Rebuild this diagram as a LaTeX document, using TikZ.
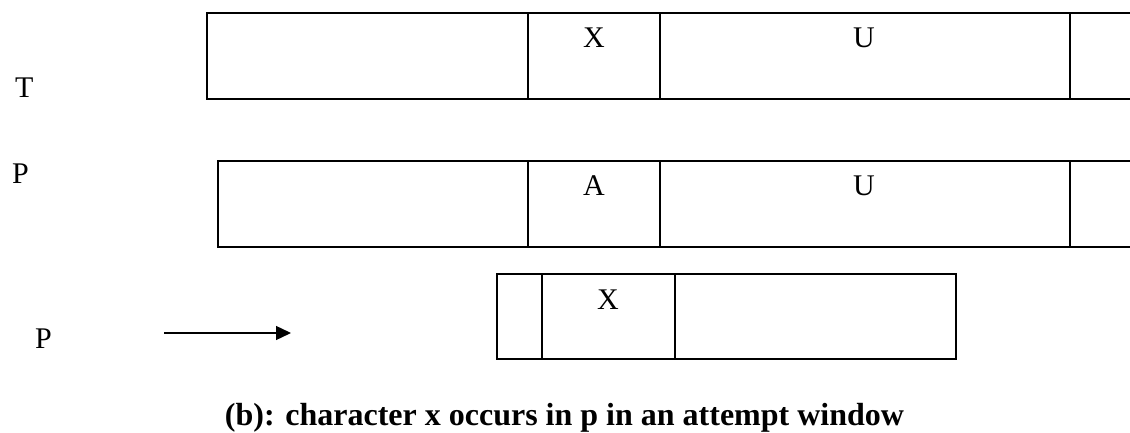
\documentclass[tikz,border=0pt]{standalone}
\usepackage{fontspec}
\setmainfont{Liberation Serif}
\usetikzlibrary{arrows.meta}

\tikzset{
  cellline/.style={line width=2pt, line join=miter},
  letter/.style={inner sep=0pt, anchor=base, font=\fontsize{30}{33}\selectfont},
  sidelabel/.style={inner sep=0pt, anchor=base west, font=\fontsize{30}{33}\selectfont},
  caption/.style={inner sep=0pt, anchor=base, font=\fontsize{32}{36}\selectfont\bfseries},
  pointer/.style={line width=1.4pt, -{Triangle[length=15pt,width=14pt]}}
}

\begin{document}
\begin{tikzpicture}[x=1pt, y=-1pt]
  \useasboundingbox (0,0) rectangle (1130,433);

  % text T: open-ended strip with three dividers
  \draw[cellline] (1135,13) -- (207,13) -- (207,99) -- (1135,99);
  \draw[cellline] (528,13) -- (528,99);
  \draw[cellline] (660,13) -- (660,99);
  \draw[cellline] (1070,13) -- (1070,99);
  \node[letter] (tx) at (594,48) {X};
  \node[letter] (tu) at (864,48) {U};
  \node[sidelabel] (tlab) at (15,98) {T};

  % pattern P, first alignment
  \draw[cellline] (1135,161) -- (218,161) -- (218,247) -- (1135,247);
  \draw[cellline] (528,161) -- (528,247);
  \draw[cellline] (660,161) -- (660,247);
  \draw[cellline] (1070,161) -- (1070,247);
  \node[letter] (pa) at (594,196) {A};
  \node[letter] (pu) at (864,196) {U};
  \node[sidelabel] (plab) at (12,183) {P};

  % pattern P, shifted window
  \draw[cellline] (497,274) rectangle (956,359);
  \draw[cellline] (542,274) -- (542,359);
  \draw[cellline] (675,274) -- (675,359);
  \node[letter] (sx) at (608,309) {X};
  \node[sidelabel] (slab) at (35,348) {P};

  % shift arrow
  \coordinate (arrA) at (164,333);
  \coordinate (arrB) at (291,333);
  \draw[pointer] (arrA) -- (arrB);

  % caption
  \node[caption] (cap) at (564.5,425) {(b): character x occurs in p in an attempt window};
\end{tikzpicture}
\end{document}
